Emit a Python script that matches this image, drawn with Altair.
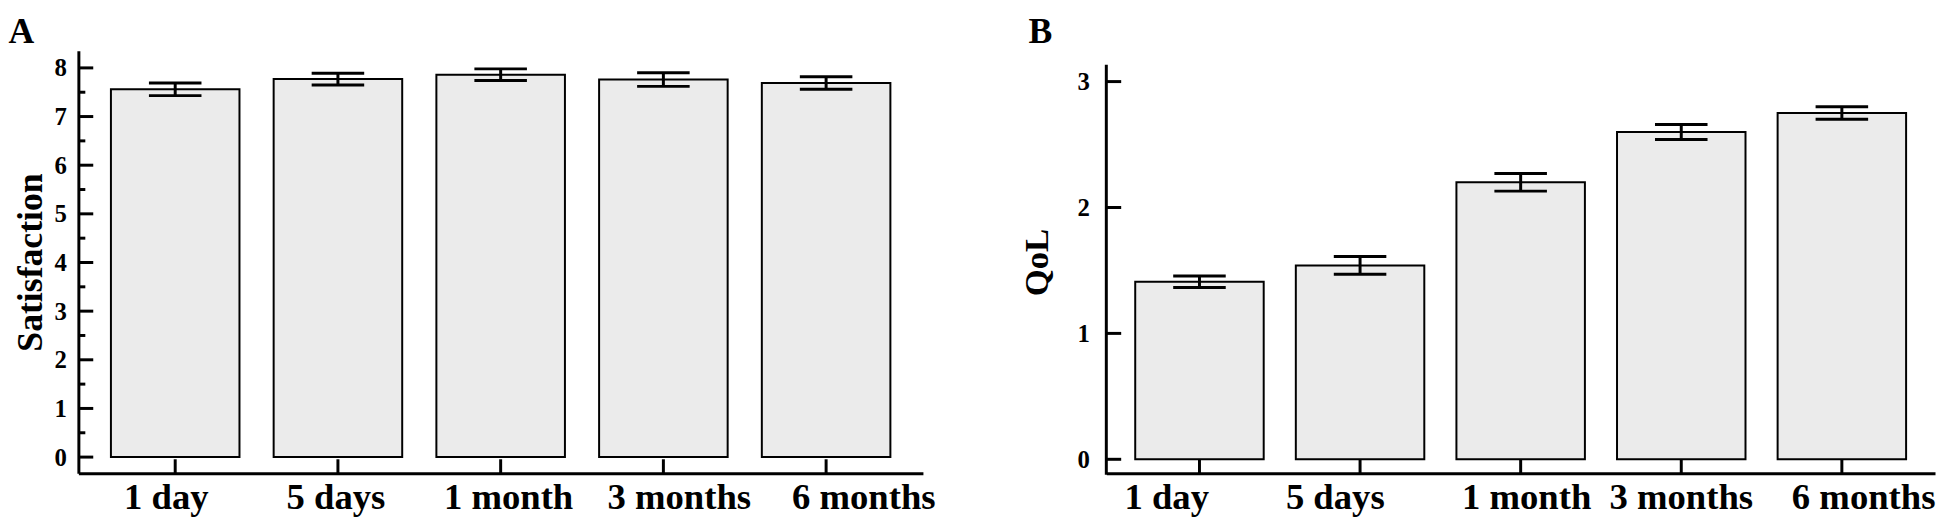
import altair as alt
import pandas as pd

categories = ["1 day", "5 days", "1 month", "3 months", "6 months"]
sat_mean = [7.56, 7.77, 7.86, 7.76, 7.69]
sat_err = [0.13, 0.12, 0.12, 0.14, 0.13]
qol_mean = [1.41, 1.54, 2.20, 2.60, 2.75]
qol_err = [0.045, 0.07, 0.07, 0.06, 0.05]

sat_major = [0, 1, 2, 3, 4, 5, 6, 7, 8]
sat_minor = [0.5, 1.5, 2.5, 3.5, 4.5, 5.5, 6.5, 7.5]
qol_major = [0, 1, 2, 3]

# horizontal shift of each category label relative to its tick (pixels)
sat_label_shift = [-9, -2, 8, 16, 38]
qol_label_shift = [-33, -25, 6, 0, 22]

FONT = "Liberation Serif"
H = 426


def label_offset(shifts):
    return {"condition": [{"test": f"datum.value === '{c}'", "value": s}
                          for c, s in zip(categories, shifts)],
            "value": 0}


def panel(means, errs, major, minor, ydom, axis_top, width, ytitle, tsize,
          letter, tdx, pi, po, lab_pad, title_pad, shifts):
    df = pd.DataFrame({"cat": categories, "mean": means, "err": errs})
    df["lo"] = df["mean"] - df["err"]
    df["hi"] = df["mean"] + df["err"]

    xenc = alt.X("cat:N", sort=categories,
                 scale=alt.Scale(paddingInner=pi, paddingOuter=po),
                 axis=alt.Axis(title=None, labelAngle=0, ticks=False, tickSize=0,
                               domainWidth=3, domainColor="black",
                               labelFont=FONT, labelFontSize=37,
                               labelFontWeight="bold", labelColor="black",
                               labelPadding=7, labelOffset=label_offset(shifts)))
    yscale = alt.Scale(domain=ydom, nice=False, zero=False)
    yaxis = alt.Axis(title=ytitle, values=major, ticks=False, tickSize=0,
                     grid=False, domain=axis_top is None,
                     domainWidth=3, domainColor="black",
                     labelFont=FONT, labelFontSize=25, labelFontWeight="bold",
                     labelColor="black", labelPadding=lab_pad,
                     titleFont=FONT, titleFontSize=tsize, titleFontWeight="bold",
                     titleColor="black", titlePadding=title_pad)

    def yenc(field):
        return alt.Y(field, type="quantitative", scale=yscale, axis=yaxis)

    base = alt.Chart(df)
    bars = base.mark_bar(fill="#ebebeb", stroke="black", strokeWidth=2).encode(
        x=xenc, y=yenc("mean"), y2=alt.datum(0))
    err_line = base.mark_rule(color="black", strokeWidth=3).encode(
        x=xenc, y=yenc("lo"), y2="hi:Q")
    cap_lo = base.mark_tick(color="black", thickness=3, size=53, opacity=1).encode(
        x=xenc, y=yenc("lo"))
    cap_hi = base.mark_tick(color="black", thickness=3, size=53, opacity=1).encode(
        x=xenc, y=yenc("hi"))
    xticks = base.mark_rule(color="black", strokeWidth=3).encode(
        x=xenc, y=alt.value(H), y2=alt.value(H - 14))

    layers = [bars, err_line, cap_lo, cap_hi, xticks]
    maj = alt.Chart(pd.DataFrame({"v": major})).mark_rule(
        color="black", strokeWidth=3).encode(
        y=yenc("v"), x=alt.value(0), x2=alt.value(15))
    layers.append(maj)
    if minor:
        mnr = alt.Chart(pd.DataFrame({"v": minor})).mark_rule(
            color="black", strokeWidth=3).encode(
            y=yenc("v"), x=alt.value(0), x2=alt.value(7))
        layers.append(mnr)
    if axis_top is not None:
        dom = alt.Chart(pd.DataFrame({"v": [axis_top]})).mark_rule(
            color="black", strokeWidth=3).encode(
            y=yenc("v"), y2=alt.value(H + 1.5), x=alt.value(0))
        layers.append(dom)

    return alt.layer(*layers).properties(
        width=width, height=H,
        title=alt.TitleParams(letter, anchor="start", font=FONT, fontSize=36,
                              fontWeight="bold", color="black", offset=0,
                              dx=tdx))


chart_a = panel(sat_mean, sat_err, sat_major, sat_minor, [-0.33, 8.35], None,
                852, "Satisfaction", 36, "A", -4, 0.21, 0.2, 12, 5,
                sat_label_shift)
chart_b = panel(qol_mean, qol_err, qol_major, [], [-0.11, 3.244], 3.134,
                836, "QoL", 35, "B", 9, 0.2, 0.18, 17, 23, qol_label_shift)

chart = alt.hconcat(chart_a, chart_b, spacing=84).properties(
    padding={"top": 4, "left": 0, "right": 0, "bottom": 0}, background="white"
).configure_view(stroke=None)

chart.save("out.html", embed_options={"renderer": "svg", "actions": False})
